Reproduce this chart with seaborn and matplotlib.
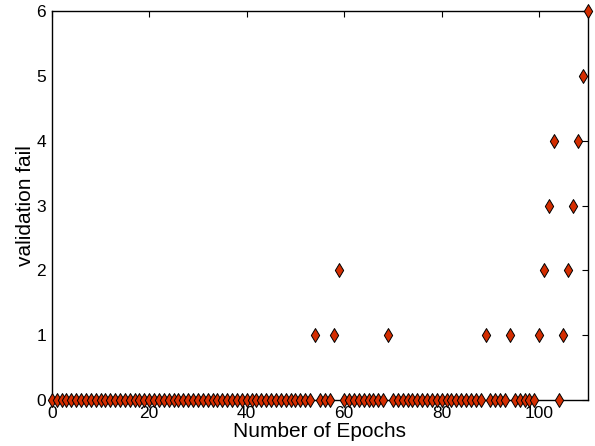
import numpy as np
import pandas as pd
import matplotlib
matplotlib.use("Agg")
import matplotlib.pyplot as plt
import seaborn as sns

# epochs 0..110 and validation fail count per epoch
epochs = list(range(0, 111))
nonzero = {54: 1, 58: 1, 59: 2, 69: 1, 89: 1, 94: 1,
           100: 1, 101: 2, 102: 3, 103: 4,
           105: 1, 106: 2, 107: 3, 108: 4, 109: 5, 110: 6}
val_fail = [nonzero.get(e, 0) for e in epochs]

df = pd.DataFrame({"epoch": epochs, "fail": val_fail})

sns.set_style("white")
plt.rcParams['font.family'] = ['Liberation Sans', 'DejaVu Sans']
plt.rcParams['text.color'] = 'black'
plt.rcParams['axes.labelcolor'] = 'black'
plt.rcParams['xtick.color'] = 'black'
plt.rcParams['ytick.color'] = 'black'

fig = plt.figure(figsize=(5.95, 4.46), dpi=100)
ax = fig.add_axes([0.087, 0.103, 0.901, 0.872])

sns.scatterplot(data=df, x="epoch", y="fail", marker="d", s=50,
                color="#d42d00", edgecolor="black", linewidth=0.7,
                ax=ax, zorder=3, clip_on=False)

ax.set_xlim(0, 110)
ax.set_ylim(0, 6)
ax.set_xticks([0, 20, 40, 60, 80, 100])
ax.set_yticks([0, 1, 2, 3, 4, 5, 6])
ax.tick_params(direction="in", length=4, width=0.8, labelsize=12.5,
               top=True, right=True)
ax.tick_params(axis="x", pad=4)
ax.tick_params(axis="y", pad=4)
for s in ax.spines.values():
    s.set_color("black")
    s.set_linewidth(1.0)
ax.set_xlabel("Number of Epochs", fontsize=15, labelpad=1)
ax.set_ylabel("validation fail", fontsize=15, labelpad=1)

fig.savefig("out.png", dpi=100)
